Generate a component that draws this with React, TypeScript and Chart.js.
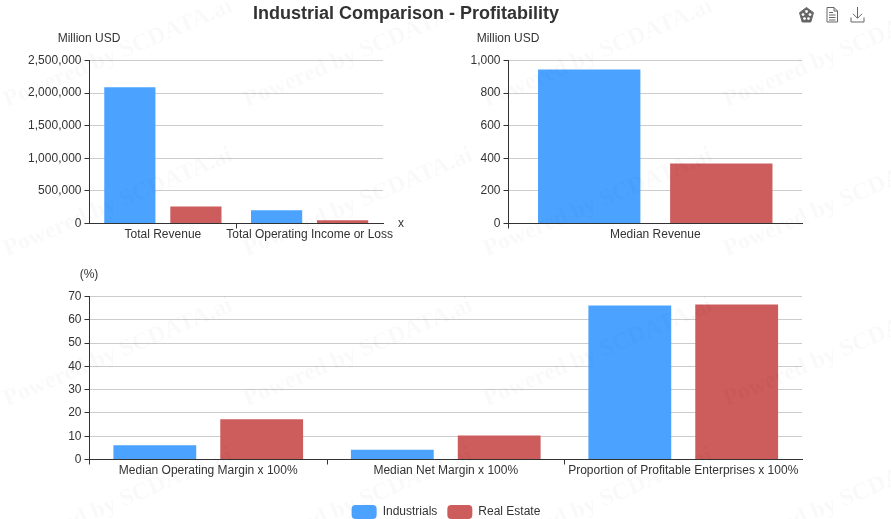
import React, { useEffect, useRef } from "react";
import { Chart, registerables } from "chart.js";

Chart.register(...registerables);

const seriesNames = ["Industrials", "Real Estate"];
const seriesColors = ["#4ba3ff", "#cd5c5c"];

const topLeftCategories = ["Total Revenue", "Total Operating Income or Loss"];
const topLeftIndustrials = [2090000, 205000];
const topLeftRealEstate = [260000, 50000];

const topRightCategories = ["Median Revenue"];
const topRightIndustrials = [945];
const topRightRealEstate = [368];

const bottomCategories = [
  "Median Operating Margin x 100%",
  "Median Net Margin x 100%",
  "Proportion of Profitable Enterprises x 100%",
];
const bottomIndustrials = [6.1, 4.2, 66.1];
const bottomRealEstate = [17.3, 10.3, 66.6];

const titleText = "Industrial Comparison - Profitability";
const watermarkText = "Powered by SCDATA.ai";
const watermarkRows = [112, 261, 411, 561];
const watermarkCols = [-1, 239, 479, 719];

const FONT = "'Liberation Sans', Arial, sans-serif";
const INK = "#333";
const W = 891;
const H = 519;

type Spec = {
  categories: string[];
  a: number[];
  b: number[];
  box: { left: number; right: number; top: number; bottom: number };
  max: number;
  step: number;
  unit: string;
  xName?: string;
  ticksAt: number[];
};

const axisNames = {
  id: "axisNames",
  afterDraw(chart: any, _args: any, opts: any) {
    const { ctx, chartArea } = chart;
    ctx.save();
    ctx.font = `12px ${FONT}`;
    ctx.fillStyle = INK;
    ctx.textBaseline = "middle";
    ctx.textAlign = "center";
    ctx.fillText(opts.unit, chartArea.left - 0.5, chartArea.top - 21.5);
    if (opts.xName) {
      ctx.textAlign = "left";
      ctx.fillText(opts.xName, chartArea.right + 15, chartArea.bottom);
    }
    ctx.restore();
  },
};

function PlotCanvas({ spec }: { spec: Spec }) {
  const ref = useRef<HTMLCanvasElement | null>(null);
  useEffect(() => {
    if (!ref.current) return;
    const { box } = spec;
    const chart = new Chart(ref.current, {
      type: "bar",
      data: {
        labels: spec.categories,
        datasets: [
          { label: seriesNames[0], data: spec.a, backgroundColor: seriesColors[0] },
          { label: seriesNames[1], data: spec.b, backgroundColor: seriesColors[1] },
        ],
      },
      plugins: [axisNames],
      options: {
        responsive: false,
        animation: false,
        datasets: { bar: { categoryPercentage: 0.9, barPercentage: 0.775 } },
        layout: {
          padding: { left: 0, right: W - box.right, top: box.top, bottom: 0 },
        },
        plugins: {
          title: { display: false },
          tooltip: { enabled: false },
          legend: { display: false },
          axisNames: { unit: spec.unit, xName: spec.xName },
        } as any,
        scales: {
          x: {
            grid: {
              display: true,
              drawOnChartArea: false,
              drawTicks: true,
              tickLength: 5,
              tickColor: (c: any) => (spec.ticksAt.includes(c.index) ? INK : "rgba(0,0,0,0)"),
            },
            border: { display: true, color: INK, width: 1 },
            ticks: {
              autoSkip: false,
              maxRotation: 0,
              minRotation: 0,
              padding: -1.5,
              color: INK,
              font: { family: FONT, size: 12 },
            },
            afterFit: (s: any) => {
              s.height = H - box.bottom;
            },
          },
          y: {
            min: 0,
            max: spec.max,
            grid: { color: "#ccc", lineWidth: 1, tickLength: 5, tickColor: INK },
            border: { display: true, color: INK, width: 1 },
            ticks: {
              stepSize: spec.step,
              padding: 3,
              color: INK,
              font: { family: FONT, size: 12 },
              callback: (v: any) => Number(v).toLocaleString("en-US"),
            },
            afterFit: (s: any) => {
              s.width = box.left;
            },
          },
        },
      } as any,
    });
    return () => chart.destroy();
  }, []);
  return (
    <canvas
      ref={ref}
      width={W}
      height={H}
      style={{ position: "absolute", left: 0, top: 0, width: W, height: H }}
    />
  );
}

function LegendCanvas() {
  const ref = useRef<HTMLCanvasElement | null>(null);
  const height = H + 10;
  useEffect(() => {
    if (!ref.current) return;
    const chart = new Chart(ref.current, {
      type: "bar",
      data: {
        labels: [],
        datasets: seriesNames.map((name, i) => ({
          label: name,
          data: [],
          backgroundColor: seriesColors[i],
        })),
      },
      options: {
        responsive: false,
        animation: false,
        plugins: {
          tooltip: { enabled: false },
          legend: {
            display: true,
            position: "bottom",
            labels: {
              boxWidth: 25,
              boxHeight: 14,
              padding: 10,
              useBorderRadius: true,
              borderRadius: 4,
              color: INK,
              font: { family: FONT, size: 12 },
            },
          },
        },
        scales: { x: { display: false }, y: { display: false } },
      } as any,
    });
    return () => chart.destroy();
  }, []);
  return (
    <canvas
      ref={ref}
      width={W + 1}
      height={height}
      style={{ position: "absolute", left: 0, top: 0, width: W + 1, height }}
    />
  );
}

const specs: Spec[] = [
  {
    categories: topLeftCategories,
    a: topLeftIndustrials,
    b: topLeftRealEstate,
    box: { left: 89.5, right: 383, top: 60.5, bottom: 223.5 },
    max: 2500000,
    step: 500000,
    unit: "Million USD",
    xName: "x",
    ticksAt: [1],
  },
  {
    categories: topRightCategories,
    a: topRightIndustrials,
    b: topRightRealEstate,
    box: { left: 508.5, right: 802, top: 60.5, bottom: 223.5 },
    max: 1000,
    step: 200,
    unit: "Million USD",
    ticksAt: [0],
  },
  {
    categories: bottomCategories,
    a: bottomIndustrials,
    b: bottomRealEstate,
    box: { left: 89.5, right: 802, top: 296.5, bottom: 459.5 },
    max: 70,
    step: 10,
    unit: "(%)",
    ticksAt: [0, 1, 2, 3],
  },
];

function Toolbox() {
  const stroke = "#666";
  return (
    <svg
      width={70}
      height={20}
      viewBox="0 0 70 20"
      style={{ position: "absolute", left: 797, top: 5 }}
      fill="none"
    >
      <path d="M9.5 2.5 L16.5 7.7 L13.8 17 L5.2 17 L2.5 7.7 Z" fill={stroke} stroke={stroke} strokeLinejoin="round" />
      <circle cx="9.5" cy="6.5" r="1.4" fill="#fff" />
      <circle cx="6" cy="9.6" r="1.4" fill="#fff" />
      <circle cx="13" cy="9.6" r="1.4" fill="#fff" />
      <circle cx="7.5" cy="13.6" r="1.4" fill="#fff" />
      <circle cx="11.5" cy="13.6" r="1.4" fill="#fff" />
      <path d="M30 2.5 H37 L40.5 6 V17 H30 Z" stroke={stroke} />
      <path d="M37 2.5 V6 H40.5 M32 7.5 H36 M32 10 H38.5 M32 12.5 H38.5 M32 15 H38.5" stroke={stroke} />
      <path d="M60.5 2 V13 M56 8.8 L60.5 13.3 L65 8.8 M54 12.5 V17 H67 V12.5" stroke={stroke} />
    </svg>
  );
}

export default function App() {
  return (
    <div
      style={{
        position: "absolute",
        left: 0,
        top: 0,
        width: W,
        height: H,
        overflow: "hidden",
        background: "#fff",
      }}
    >
      {specs.map((s, i) => (
        <PlotCanvas key={i} spec={s} />
      ))}
      <LegendCanvas />
      <div
        style={{
          position: "absolute",
          left: 0,
          top: 2,
          width: 812,
          textAlign: "center",
          font: `bold 18px ${FONT}`,
          lineHeight: "22px",
          color: INK,
        }}
      >
        {titleText}
      </div>
      <Toolbox />
      {watermarkRows.flatMap((y) =>
        watermarkCols.map((x) => (
          <span
            key={`${x}-${y}`}
            style={{
              position: "absolute",
              left: x,
              top: y,
              transformOrigin: "0 0",
              transform: "translateY(-24px) rotate(-23deg)",
              font: "bold 24px 'Liberation Serif', serif",
              whiteSpace: "nowrap",
              color: "rgba(0,0,0,0.022)",
              pointerEvents: "none",
            }}
          >
            {watermarkText}
          </span>
        ))
      )}
    </div>
  );
}
